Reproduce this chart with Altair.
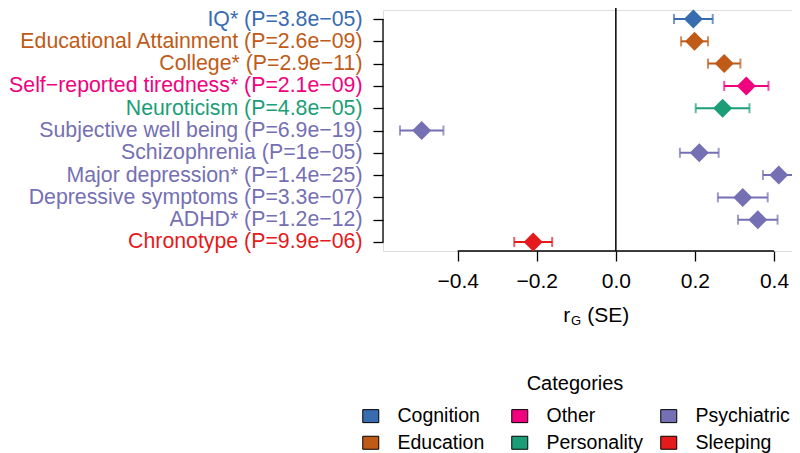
import altair as alt
import pandas as pd

FONT = "Liberation Sans"

traits = ["IQ*", "Educational Attainment", "College*", "Self\u2212reported tiredness*",
          "Neuroticism", "Subjective well being", "Schizophrenia", "Major depression*",
          "Depressive symptoms", "ADHD*", "Chronotype"]
pvals = ["3.8e\u221205", "2.6e\u221209", "2.9e\u221211", "2.1e\u221209", "4.8e\u221205",
         "6.9e\u221219", "1e\u221205", "1.4e\u221225", "3.3e\u221207", "1.2e\u221212", "9.9e\u221206"]
categories = ["Cognition", "Education", "Education", "Other", "Personality", "Psychiatric",
              "Psychiatric", "Psychiatric", "Psychiatric", "Psychiatric", "Sleeping"]
rg = [0.196, 0.199, 0.274, 0.330, 0.270, -0.491, 0.211, 0.412, 0.321, 0.359, -0.209]
se = [0.049, 0.034, 0.041, 0.056, 0.068, 0.055, 0.049, 0.040, 0.063, 0.050, 0.048]

cat_order = ["Cognition", "Education", "Other", "Personality", "Psychiatric", "Sleeping"]
cat_colors = ["#386CB0", "#BF5B17", "#F0027F", "#1B9E77", "#7570B3", "#E41A1C"]
x_ticks = [-0.4, -0.2, 0.0, 0.2, 0.4]

labels = [f"{t} (P={p})" for t, p in zip(traits, pvals)]
df = pd.DataFrame({"label": labels, "category": categories, "rg": rg, "se": se})

color_of = dict(zip(cat_order, cat_colors))
expr = "'#000000'"
for lab, cat in reversed(list(zip(labels, categories))):
    expr = f"datum.value === '{lab}' ? '{color_of[cat]}' : " + expr

W, H = 409, 241

xscale = alt.Scale(domain=[-0.5889, 0.4455], nice=False, zero=False)
yscale = alt.Scale(type="point", domain=labels, padding=0.405)
cscale = alt.Scale(domain=cat_order, range=cat_colors)

xaxis = alt.Axis(values=x_ticks, format=".1f", domain=False, grid=False, title=None,
                 tickSize=10, tickColor="black", tickWidth=1.3,
                 labelFont=FONT, labelFontSize=21, labelColor="black", labelPadding=9)
yaxis = alt.Axis(title=None, domain=False, grid=False, tickSize=10, tickColor="black",
                 tickWidth=1.3, labelFont=FONT, labelFontSize=21.3, labelPadding=11,
                 labelLimit=0, labelColor={"expr": expr})

legend = alt.Legend(title="Categories", orient="none", legendX=-22, legendY=364,
                    columns=3, gridAlign="all", columnPadding=15, rowPadding=6,
                    symbolType="M-1,-0.8125H1V0.8125H-1Z", symbolSize=256,
                    symbolStrokeColor="black", symbolStrokeWidth=1, symbolOpacity=1,
                    labelFont=FONT, labelFontSize=19.5, labelColor="black", labelOffset=17,
                    labelLimit=0,
                    titleFont=FONT, titleFontSize=20, titleFontWeight="normal",
                    titleColor="black", titleAnchor="middle", titleAlign="center",
                    titlePadding=12)

base = alt.Chart(df).transform_calculate(lo="datum.rg - datum.se", hi="datum.rg + datum.se")

one = alt.Data(values=[{}])

zero_rule = alt.Chart(one).mark_rule(color="black", strokeWidth=1.5).encode(
    x=alt.X(datum=0, type="quantitative", scale=xscale, axis=xaxis),
    y=alt.value(-2), y2=alt.value(H))

x_line = alt.Chart(one).mark_rule(color="black", strokeWidth=1.3).encode(
    x=alt.X(datum=x_ticks[0], type="quantitative"), x2=alt.X2(datum=x_ticks[-1]), y=alt.value(H))

y_line = alt.Chart(one).mark_rule(color="black", strokeWidth=1.3).encode(
    y=alt.Y(datum=labels[0], type="nominal", scale=yscale, axis=yaxis),
    y2=alt.Y2(datum=labels[-1]), x=alt.value(0))

bars = base.mark_rule(strokeWidth=2).encode(
    x=alt.X("lo:Q", scale=xscale, axis=xaxis), x2="hi:Q",
    y=alt.Y("label:N", scale=yscale, axis=yaxis),
    color=alt.Color("category:N", scale=cscale, legend=None))

cap_lo = base.mark_tick(size=10, thickness=2).encode(
    x="lo:Q", y=alt.Y("label:N", scale=yscale, axis=yaxis),
    color=alt.Color("category:N", scale=cscale, legend=None))
cap_hi = base.mark_tick(size=10, thickness=2).encode(
    x="hi:Q", y=alt.Y("label:N", scale=yscale, axis=yaxis),
    color=alt.Color("category:N", scale=cscale, legend=None))

points = base.mark_point(shape="diamond", filled=True, size=361, opacity=1).encode(
    x="rg:Q", y=alt.Y("label:N", scale=yscale, axis=yaxis),
    fill=alt.Fill("category:N", scale=cscale, legend=legend))

t_r = alt.Chart(one).mark_text(align="left", baseline="alphabetic", font=FONT, fontSize=21,
                               color="black").encode(x=alt.value(180.3), y=alt.value(312), text=alt.value("r"))
t_g = alt.Chart(one).mark_text(align="left", baseline="alphabetic", font=FONT, fontSize=13,
                               color="black").encode(x=alt.value(188), y=alt.value(315), text=alt.value("G"))
t_se = alt.Chart(one).mark_text(align="left", baseline="alphabetic", font=FONT, fontSize=21,
                                color="black").encode(x=alt.value(204.3), y=alt.value(312), text=alt.value("(SE)"))

chart = alt.layer(zero_rule, x_line, y_line, bars, cap_lo, cap_hi, points, t_r, t_g, t_se).properties(
    width=W, height=H,
    autosize=alt.AutoSizeParams(type="none"),
    padding={"left": 375, "top": 2, "right": 0, "bottom": 202},
).resolve_scale(color="independent", fill="independent").configure_view(stroke=None).configure(background="white")

chart.save("out.html", embed_options={"renderer": "svg", "actions": False})
